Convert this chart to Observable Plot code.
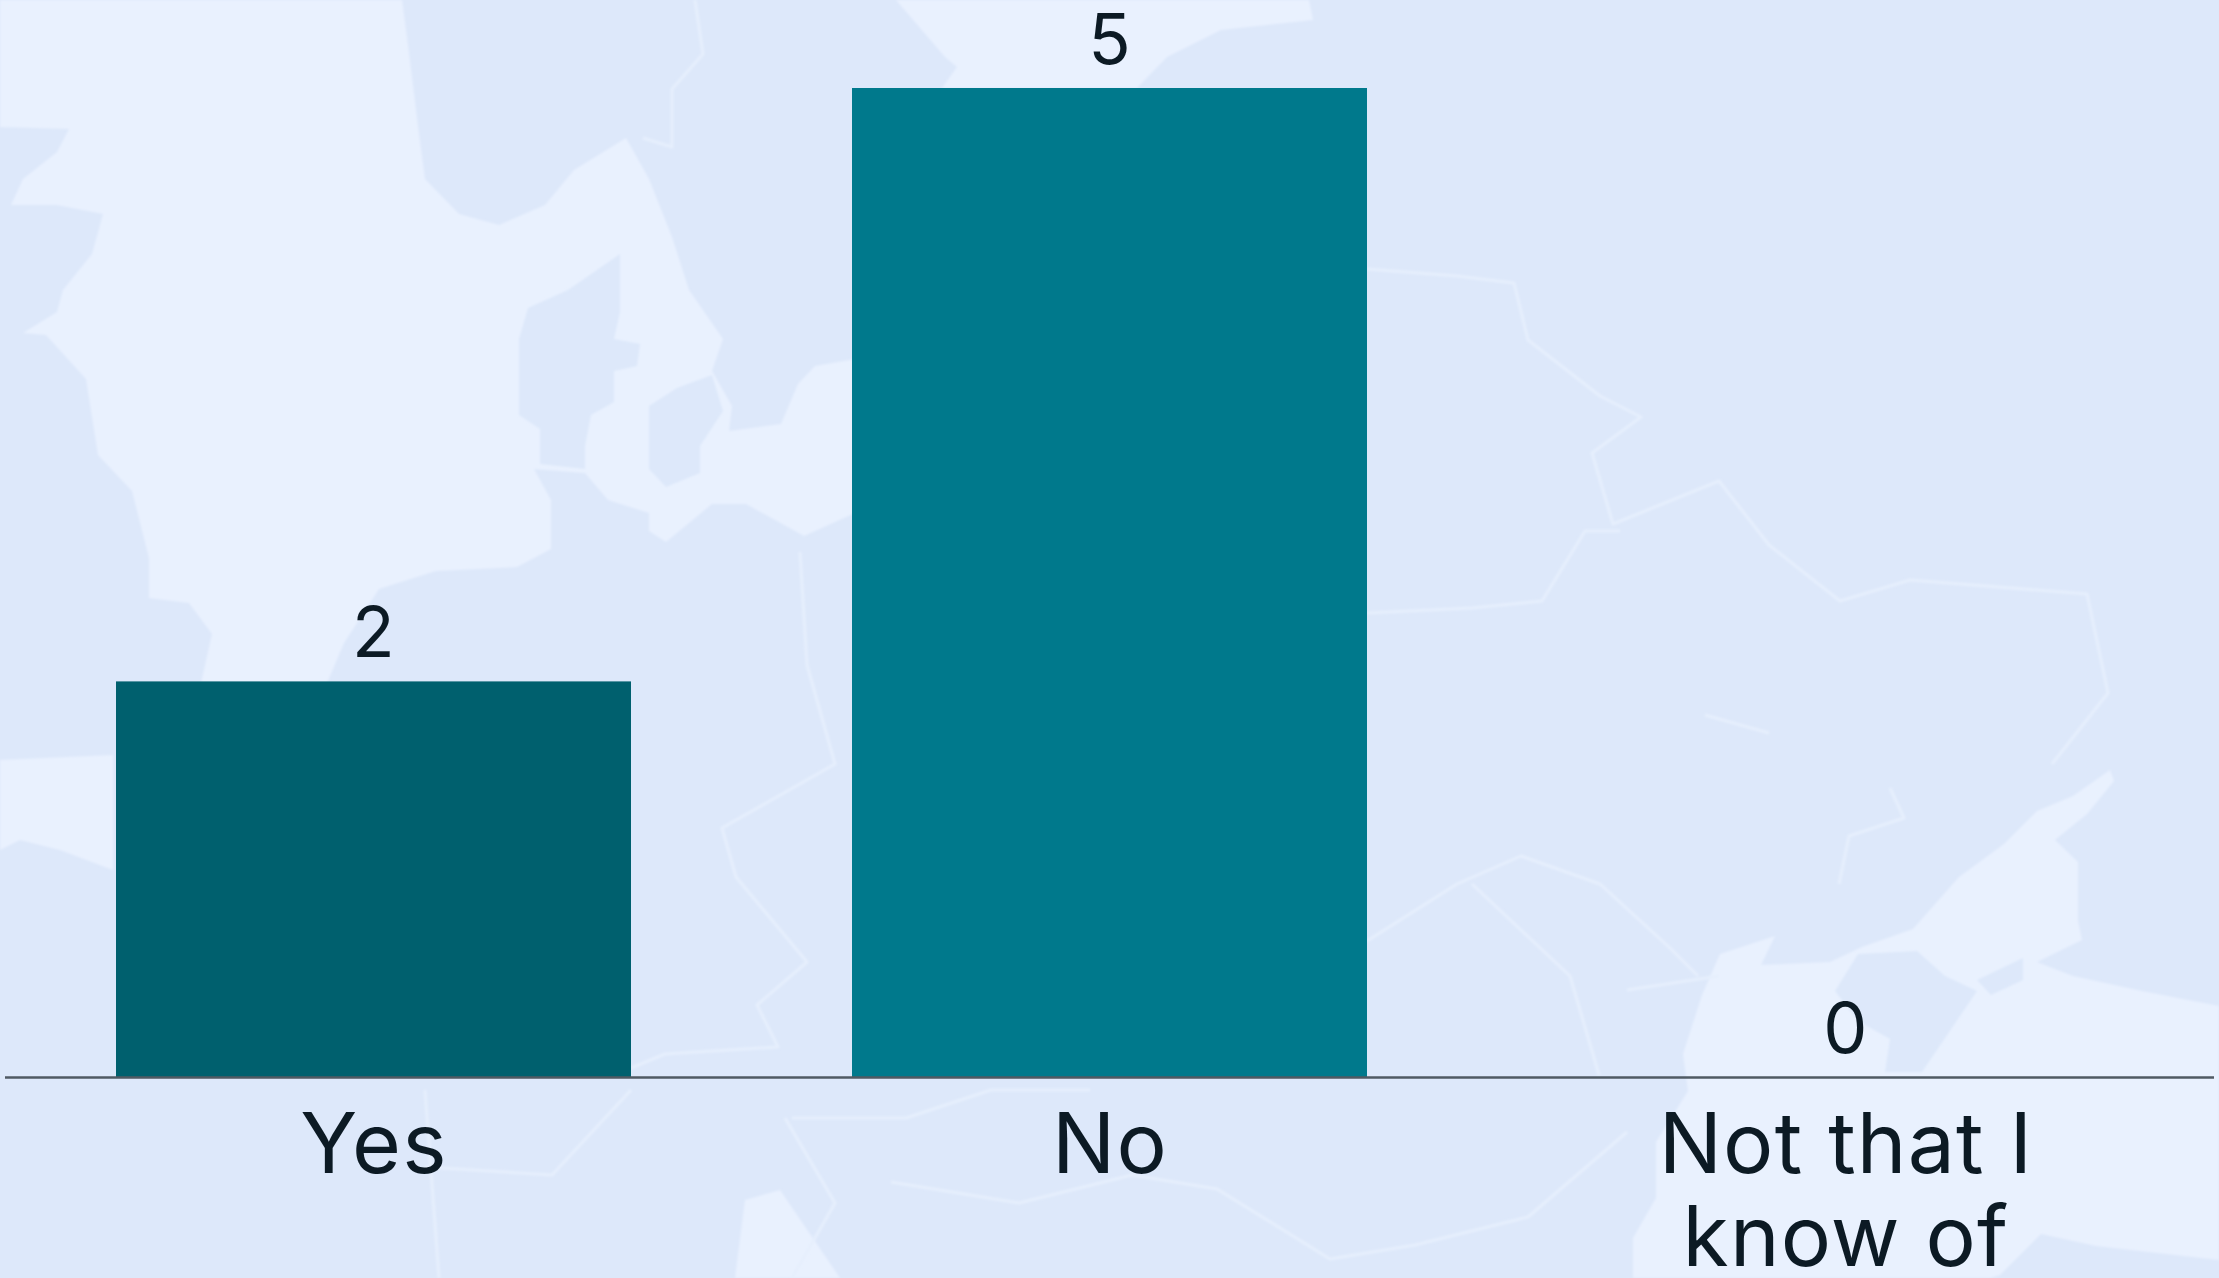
<!DOCTYPE html>
<html>
<head>
<meta charset="utf-8">
<script src="https://cdn.jsdelivr.net/npm/d3@7"></script>
<script src="https://cdn.jsdelivr.net/npm/@observablehq/plot@0.6"></script>
<style>
  html, body { margin: 0; padding: 0; width: 2219px; height: 1278px; overflow: hidden; }
  body { background-color: #dde8fa; background-repeat: no-repeat; }
  svg { display: block; background: transparent !important; }
  #chart svg text { letter-spacing: 1.2px; }
</style>
</head>
<body>
<div id="chart"></div>
<script>
const categories = ["Yes", "No", "Not that I\nknow of"];
const counts = [2, 5, 0];
const barColors = ["#00606e", "#00798c", "#00798c"];
const rows = categories.map((category, i) => ({category, count: counts[i], color: barColors[i]}));
const font = "Inter, 'Open Sans', sans-serif";
const ink = "#0c1a24";

// Decorative page backdrop (faint map), not chart data.
const backdrop = `<svg xmlns="http://www.w3.org/2000/svg" width="2219" height="1278">
<defs><filter id="s"><feGaussianBlur stdDeviation="1.2"/></filter></defs>
<g fill="#e9f1fe" filter="url(#s)">
<polygon points="0,0 402,0 408,45 419,134 425,179 459,214 499,225 545,205 574,170 626,138 649,179 672,237 689,290 723,339 712,371 732,406 729,431 781,424 798,384 815,366 855,359 855,513 804,536 746,504 712,504 666,542 649,531 649,513 608,500 585,473 534,469 551,500 551,549 517,567 436,571 379,589 344,643 327,683 201,683 212,634 189,603 149,598 149,558 132,491 98,455 86,379 46,335 23,333 57,312 63,290 92,254 103,214 57,205 11,205 23,179 57,152 69,129 0,127"/>
<polygon points="0,760 113,755 113,870 60,850 20,840 0,850"/>
<polygon points="896,0 945,57 957,67 942,88 1137,88 1167,57 1221,30 1313,20 1309,0"/>
<polygon points="2110,770 2114,781 2087,814 2055,840 2078,862 2078,921 2082,940 2037,962 2073,976 2142,991 2219,1006 2219,1260 2096,1246 2041,1234 2000,1275 1990,1278 1633,1278 1633,1238 1656,1198 1656,1142 1688,1091 1683,1054 1702,995 1720,954 1775,936 1761,965 1830,962 1862,947 1913,929 1959,877 2004,844 2037,811 2073,796"/>
<polygon points="735,1278 745,1200 780,1190 840,1278"/>
</g>
<g fill="#dde8fa" filter="url(#s)">
<polygon points="620,254 620,312 614,339 640,344 637,366 614,371 614,402 591,415 585,446 585,469 540,464 540,429 519,415 519,339 528,308 568,290"/>
<polygon points="649,406 677,388 712,375 723,411 700,446 700,473 666,487 649,469 649,429"/>
<polygon points="1858,954 1917,951 1945,976 1977,991 1922,1072 1885,1072 1890,1039 1858,1021 1835,991"/>
<polygon points="1977,980 2023,958 2023,980 1991,995"/>
</g>
<g fill="none" stroke="#e6effd" stroke-width="3" stroke-linejoin="round" filter="url(#s)">
<polyline points="1367,269 1457,276 1514,283 1528,340 1600,396 1641,417 1592,453 1613,524 1719,481 1769,545 1840,601 1910,580 2087,594 2108,693 2052,764"/>
<polyline points="1367,613 1472,608 1542,601 1585,531 1620,531"/>
<polyline points="800,552 807,665 835,764 722,828 736,877 807,962 757,1005 778,1047 665,1054 631,1068"/>
<polyline points="631,1090 552,1175 425,1167"/>
<polyline points="425,1090 439,1278"/>
<polyline points="1367,941 1457,884 1521,856 1600,884 1670,948 1698,976"/>
<polyline points="1472,884 1570,976 1599,1075"/>
<polyline points="1627,990 1719,976"/>
<polyline points="792,1118 906,1118 991,1090 1090,1090"/>
<polyline points="891,1182 1019,1203 1132,1175 1217,1189 1330,1259 1415,1245 1528,1217 1627,1132"/>
<polyline points="785,1118 835,1203 792,1278"/>
<polyline points="1839,884 1849,836 1904,818 1890,788"/>
<polyline points="1705,715 1769,733"/>
<polyline points="695,0 703,54 672,89 672,147 643,138"/>
</g>
</svg>`;
document.body.style.backgroundImage = `url("data:image/svg+xml,${encodeURIComponent(backdrop)}")`;

const chart = Plot.plot({
  width: 2219,
  height: 1278,
  marginLeft: 5,
  marginRight: 5,
  marginTop: 88,
  marginBottom: 201,
  style: {background: "transparent", fontFamily: font},
  x: {domain: categories, paddingInner: 0.3, paddingOuter: 0.15, label: null},
  y: {domain: [0, 5], axis: null, label: null},
  marks: [
    Plot.barY(rows, {x: "category", y: "count", fill: "color"}),
    Plot.ruleY([0], {stroke: "#4f5a63", strokeWidth: 2.5}),
    Plot.text(rows, {x: "category", y: "count", text: d => String(d.count), fontSize: 70, fill: ink, fontFamily: font, lineAnchor: "bottom", dy: -25}),
    Plot.axisX({tickSize: 0, tickPadding: 30, fontSize: 84, lineHeight: 1.1, fill: ink, fontFamily: font, label: null})
  ]
});
document.getElementById("chart").appendChild(chart);
</script>
</body>
</html>
